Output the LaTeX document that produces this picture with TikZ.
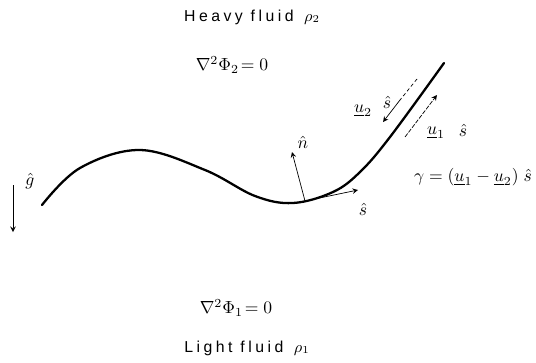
\documentclass[tikz,border=0pt]{standalone}
\usepackage{fontspec}
\usepackage{amsmath}
\usepackage{amssymb}
\newfontfamily\spaced[LetterSpace=22]{Liberation Sans}
\tikzset{>=stealth,
  lbl/.style={inner sep=1pt},
  fluid/.style={font=\spaced\fontsize{9}{10}\selectfont},
  thinvec/.style={->,line width=0.4pt}}
\begin{document}
\begin{tikzpicture}
\useasboundingbox (0,0) rectangle (10.72,7.24);
%\def\s{50}
\path
(5.04,6.90) node[fluid] (heavy) {Heavy fluid \,$\rho_2$}
(4.64,5.94) node (lap2) {$\nabla^2\Phi_2\!=0$}
(4.72,1.08) node (lap1) {$\nabla^2\Phi_1\!=0$}
(4.94,0.28) node[fluid] (light) {Light fluid \,$\rho_1$}
(0.26,3.54) coordinate (g0)
(0.26,2.60) coordinate (g1)
(0.60,3.62) node[lbl] (gl) {$\hat g$}
(6.10,3.22) coordinate (P)
(5.84,4.20) coordinate (n)
(6.06,4.40) node[lbl] (nl) {$\hat n$}
(7.16,3.44) coordinate (t)
(7.26,3.06) node[lbl] (tl) {$\hat s$}
(8.34,5.66) coordinate (u2a)
(8.00,5.24) coordinate (u2b)
(7.66,4.80) coordinate (u2c)
(7.26,5.02) node[lbl] (u2l) {$\underline{u}_2$}
(7.74,5.20) node[lbl] (s2l) {$\hat s$}
(8.10,4.50) coordinate (u1a)
(8.74,5.34) coordinate (u1b)
(8.72,4.58) node[lbl] (u1l) {$\underline{u}_1$}
(9.26,4.64) node[lbl] (s1l) {$\hat s$}
(8.24,3.70) node[anchor=west,lbl] (gam) {$\gamma=(\underline{u}_1-\underline{u}_2)\;\hat s$};
%interface
\draw[line width=1.3pt, line cap=round] plot[smooth, tension=0.6] coordinates
 {(0.84,3.14) (1.60,3.88) (2.80,4.24) (4.10,3.84) (5.10,3.32) (5.86,3.18)
  (6.66,3.40) (7.20,3.80) (7.80,4.50) (8.88,5.98)};
\draw[thinvec] (g0)--(g1);
\draw[thinvec] (P)--(n);
\draw[thinvec] (P)--(t);
\draw[line width=0.4pt, dash pattern=on 2pt off 1.5pt] (u2a)--(u2b);
\draw[thinvec] (u2b)--(u2c);
\draw[thinvec, dash pattern=on 2.5pt off 0.8pt] (u1a)--(u1b);
\end{tikzpicture}
\end{document}
